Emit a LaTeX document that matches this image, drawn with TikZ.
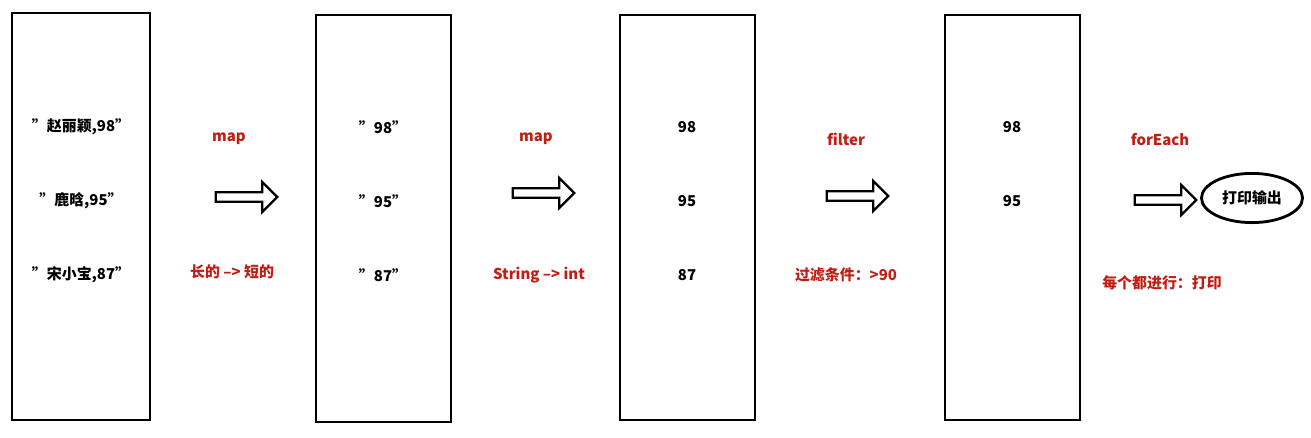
\documentclass[tikz,border=0pt]{standalone}
\usepackage{fontspec}
\setmainfont{Noto Sans CJK SC}
\usetikzlibrary{shapes.arrows,shapes.geometric}
\definecolor{labred}{RGB}{192,30,20}
\tikzset{
  listbox/.style={draw,line width=1.6pt},
  item/.style={font=\fontsize{8.5}{10}\selectfont\bfseries},
  oplabel/.style={text=labred,font=\fontsize{8.5}{10}\selectfont\bfseries},
  hollow/.style={single arrow,draw,line width=1.3pt,minimum width=17pt,
    single arrow head extend=4.5pt,single arrow head indent=0pt,
    minimum height=35pt,inner sep=1.5pt}
}
\begin{document}
\begin{tikzpicture}[x=0.02cm,y=-0.02cm]
    \useasboundingbox (0,0) rectangle (1311,437);
    % the four lists
    \draw[listbox] (12,13) rectangle (150,420);
    \draw[listbox] (316,15) rectangle (451,422);
    \draw[listbox] (620,15) rectangle (755,420);
    \draw[listbox] (945,15) rectangle (1080,420);
    \node[item] (a1) at (81,127) {"赵丽颖,98"};
    \node[item] (a2) at (81,201) {"鹿晗,95"};
    \node[item] (a3) at (81,275) {"宋小宝,87"};
    \node[item] (b1) at (383,127) {"98"};
    \node[item] (b2) at (383,201) {"95"};
    \node[item] (b3) at (383,275) {"87"};
    \node[item] (c1) at (687,127) {98};
    \node[item] (c2) at (687,201) {95};
    \node[item] (c3) at (687,275) {87};
    \node[item] (d1) at (1012,127) {98};
    \node[item] (d2) at (1012,201) {95};
    % operations
    \node[oplabel] (m1) at (229,139) {map};
    \node[hollow] (r1) at (244,197) {};
    \node[oplabel] (n1) at (232,272) {长的 --> 短的};
    \node[oplabel] (m2) at (536,139) {map};
    \node[hollow] (r2) at (541,193) {};
    \node[oplabel] (n2) at (539,275) {String --> int};
    \node[oplabel] (m3) at (846,139) {filter};
    \node[hollow] (r3) at (855,196) {};
    \node[oplabel] (n3) at (846,275) {过滤条件：>90};
    \node[oplabel] (m4) at (1160,140) {forEach};
    \node[hollow] (r4) at (1163,200) {};
    \node[oplabel] (n4) at (1162,283) {每个都进行：打印};
    \node[ellipse,draw,line width=1.6pt,minimum width=51pt,minimum height=28pt,item] (out) at (1252,198) {打印输出};
\end{tikzpicture}
\end{document}
